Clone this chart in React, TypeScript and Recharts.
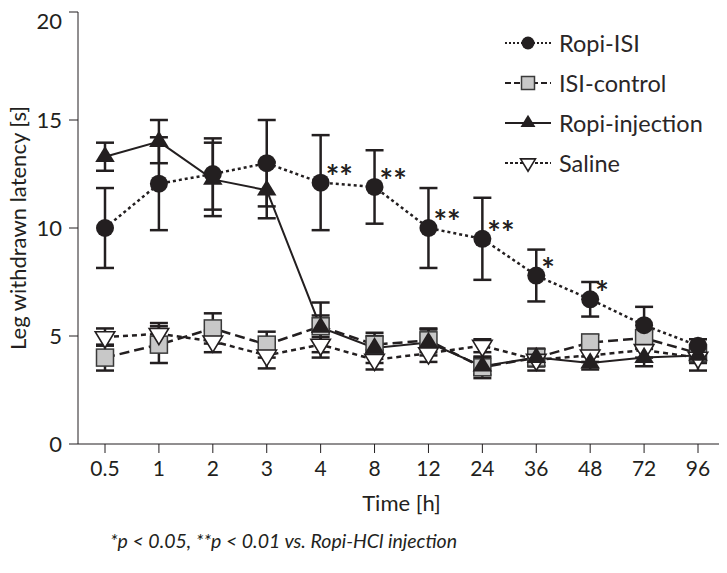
import React from 'react';
import { LineChart, Line, XAxis, YAxis, ErrorBar, Legend, LabelList } from 'recharts';

// time points (h)
const times = ['0.5', '1', '2', '3', '4', '8', '12', '24', '36', '48', '72', '96'];

// group means and error (SD)
const ropiIsi = [10.0, 12.05, 12.5, 13.0, 12.1, 11.9, 10.0, 9.5, 7.8, 6.7, 5.5, 4.55];
const ropiIsiSd = [1.85, 2.15, 1.65, 2.0, 2.2, 1.7, 1.85, 1.9, 1.2, 0.8, 0.85, 0.3];

const isiControl = [4.0, 4.6, 5.35, 4.6, 5.45, 4.6, 4.8, 3.55, 4.0, 4.7, 4.9, 4.2];
const isiControlSd = [0.6, 0.85, 0.7, 0.6, 0.5, 0.4, 0.55, 0.5, 0.4, 0.35, 0.3, 0.3];

const ropiInj = [13.3, 14.0, 12.25, 11.75, 5.4, 4.45, 4.7, 3.6, 4.0, 3.75, 4.0, 4.1];
const ropiInjSd = [0.65, 1.0, 1.7, 1.3, 1.15, 0.7, 0.6, 0.4, 0.4, 0.3, 0.4, 0.35];

const saline = [4.95, 5.1, 4.75, 4.1, 4.6, 3.9, 4.2, 4.55, 3.9, 4.1, 4.35, 4.0];
const salineSd = [0.4, 0.5, 0.5, 0.6, 0.6, 0.45, 0.4, 0.3, 0.5, 0.3, 0.35, 0.6];

// significance marks on Ropi-ISI
const significance = ['', '', '', '', '**', '**', '**', '**', '*', '*', '', ''];

const yTicks = [0, 5, 10, 15, 20];

const data = times.map((t, i) => ({
  time: t,
  ropiIsi: ropiIsi[i],
  ropiIsiSd: ropiIsiSd[i],
  isiControl: isiControl[i],
  isiControlSd: isiControlSd[i],
  ropiInj: ropiInj[i],
  ropiInjSd: ropiInjSd[i],
  saline: saline[i],
  salineSd: salineSd[i],
  sig: significance[i],
}));

const FONT = 'Lato, "Open Sans", sans-serif';
const INK = '#231f20';

type Shape = 'circle' | 'square' | 'triangle' | 'triangleDown';

function Marker({ shape, cx, cy, s }: { shape: Shape; cx: number; cy: number; s: number }) {
  if (cx == null || cy == null) return null;
  if (shape === 'circle') {
    return <circle cx={cx} cy={cy} r={s / 2} fill={INK} />;
  }
  if (shape === 'square') {
    return (
      <rect x={cx - s / 2} y={cy - s / 2} width={s} height={s} fill="#c8c8c8" stroke="#3a3a3a" strokeWidth={1.5} />
    );
  }
  const w = s * 1.15;
  const h = s * 0.95;
  if (shape === 'triangle') {
    const d = `M${cx},${cy - (h * 2) / 3} L${cx + w / 2},${cy + h / 3} L${cx - w / 2},${cy + h / 3} Z`;
    return <path d={d} fill={INK} />;
  }
  const d = `M${cx},${cy + (h * 2) / 3} L${cx + w / 2},${cy - h / 3} L${cx - w / 2},${cy - h / 3} Z`;
  return <path d={d} fill="#fff" stroke={INK} strokeWidth={1.6} />;
}

const series = [
  { key: 'isiControl', sd: 'isiControlSd', name: 'ISI-control', dash: '10 5', width: 2.5, shape: 'square' as Shape, size: 17 },
  { key: 'saline', sd: 'salineSd', name: 'Saline', dash: '5 4', width: 2.5, shape: 'triangleDown' as Shape, size: 17 },
  { key: 'ropiInj', sd: 'ropiInjSd', name: 'Ropi-injection', dash: undefined, width: 2, shape: 'triangle' as Shape, size: 17 },
  { key: 'ropiIsi', sd: 'ropiIsiSd', name: 'Ropi-ISI', dash: '3 3', width: 2.5, shape: 'circle' as Shape, size: 18 },
];

const legendOrder = ['ropiIsi', 'isiControl', 'ropiInj', 'saline'];
const legendDash: Record<string, string | undefined> = {
  ropiIsi: '2 2',
  isiControl: '6 3',
  ropiInj: undefined,
  saline: '3 2',
};

function ChartLegend() {
  return (
    <div style={{ display: 'flex', flexDirection: 'column' }}>
      {legendOrder.map((k) => {
        const s = series.find((x) => x.key === k)!;
        return (
          <div key={k} style={{ display: 'flex', alignItems: 'center', height: 40 }}>
            <svg width={46} height={20}>
              <line x1={0} x2={46} y1={10} y2={10} stroke={INK} strokeWidth={1.8} strokeDasharray={legendDash[k]} />
              <Marker shape={s.shape} cx={23} cy={10} s={13} />
            </svg>
            <span style={{ marginLeft: 8, fontSize: 23.5, color: '#2a2627', fontFamily: FONT }}>{s.name}</span>
          </div>
        );
      })}
    </div>
  );
}

function SigLabel(props: any) {
  const { x, y, value } = props;
  if (!value) return null;
  return (
    <text x={x + 5} y={y + 6} fontSize={32} fontWeight="bold" fill={INK} fontFamily={FONT}>
      {value}
    </text>
  );
}

export default function App() {
  return (
    <div style={{ position: 'relative', width: 719, height: 565, fontFamily: FONT }}>
      <LineChart width={719} height={520} data={data} margin={{ top: 4, right: 2, left: 0, bottom: 14 }}>
        <XAxis
          dataKey="time"
          type="category"
          stroke={INK}
          tickSize={9}
          tickMargin={8}
          padding={{ left: 27, right: 27 }}
          tick={{ fontSize: 21, fill: INK, fontFamily: FONT }}
          height={70}
          label={{ value: 'Time [h]', position: 'insideBottom', offset: 3, fontSize: 22, fill: INK, fontFamily: FONT }}
        />
        <XAxis
          xAxisId="top"
          dataKey="time"
          orientation="top"
          height={0}
          padding={{ left: 27, right: 27 }}
          tick={false}
          tickLine={false}
          stroke={INK}
        />
        <YAxis
          domain={[0, 20]}
          ticks={yTicks}
          stroke={INK}
          tickSize={9}
          tickMargin={7}
          width={70}
          tick={{ fontSize: 22, fill: INK, fontFamily: FONT }}
          label={{
            value: 'Leg withdrawn latency [s]',
            angle: -90,
            position: 'center',
            dx: -25,
            fontSize: 22,
            fill: INK,
            fontFamily: FONT,
          }}
        />
        <YAxis yAxisId="right" orientation="right" domain={[0, 20]} width={0} tick={false} tickLine={false} stroke={INK} />
        <Legend
          layout="vertical"
          align="center"
          verticalAlign="middle"
          content={ChartLegend}
          wrapperStyle={{ top: 15, left: 497, width: 'auto' }}
        />
        {/* invisible series so the frame axes (top / right) are drawn */}
        <Line
          xAxisId="top"
          yAxisId="right"
          dataKey="saline"
          stroke="none"
          dot={false}
          activeDot={false}
          legendType="none"
          isAnimationActive={false}
        />
        {series.map((s) => (
          <Line
            key={s.key}
            dataKey={s.key}
            name={s.name}
            stroke={INK}
            strokeWidth={s.width}
            strokeDasharray={s.dash}
            isAnimationActive={false}
            activeDot={false}
            dot={(p: any) => <Marker key={`${s.key}-${p.index}`} shape={s.shape} cx={p.cx} cy={p.cy} s={s.size} />}
          >
            <ErrorBar dataKey={s.sd} direction="y" width={9} stroke={INK} strokeWidth={2.5} />
            {s.key === 'ropiIsi' && <LabelList dataKey="sig" content={SigLabel} />}
          </Line>
        ))}
      </LineChart>
      <div
        style={{
          position: 'absolute',
          top: 521,
          left: 102,
          fontSize: 19.5,
          fontStyle: 'italic',
          color: INK,
          fontFamily: FONT,
          whiteSpace: 'nowrap',
        }}
      >
        *p &lt; 0.05, **p &lt; 0.01 vs. Ropi-HCl injection
      </div>
    </div>
  );
}
